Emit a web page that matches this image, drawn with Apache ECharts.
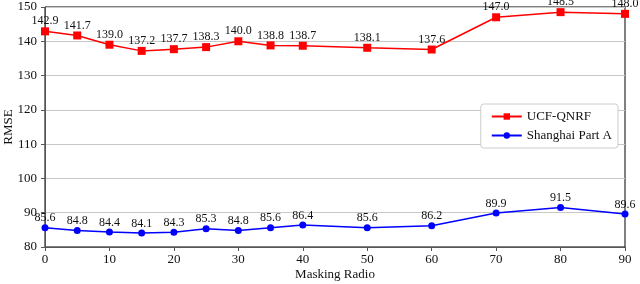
<!DOCTYPE html>
<html><head><meta charset="utf-8">
<script src="https://cdn.jsdelivr.net/npm/echarts@6/dist/echarts.min.js"></script>
<style>html,body{margin:0;padding:0;background:#fff}#c{width:640px;height:284px}</style>
</head><body><div id="c"></div>
<script>
const ratios = [0, 5, 10, 15, 20, 25, 30, 35, 40, 50, 60, 70, 80, 90];
const ucf = [142.9, 141.7, 139.0, 137.2, 137.7, 138.3, 140.0, 138.8, 138.7, 138.1, 137.6, 147.0, 148.5, 148.0];
const sha = [85.6, 84.8, 84.4, 84.1, 84.3, 85.3, 84.8, 85.6, 86.4, 85.6, 86.2, 89.9, 91.5, 89.6];
const font = 'Liberation Serif';
const chart = echarts.init(document.getElementById('c'));
const lbl = {show: true, position: 'top', distance: 0, fontFamily: font, fontSize: 12, color: '#111', formatter: p => p.value[1].toFixed(1)};
chart.setOption({
  animation: false,
  grid: {left: 45, right: 15, top: 7, bottom: 37, show: true, borderColor: '#000', borderWidth: 1, outerBoundsMode: 'none', containLabel: false},
  legend: {
    orient: 'vertical', right: 22, top: 104, itemWidth: 30, itemHeight: 8, itemGap: 6,
    backgroundColor: '#fff', borderColor: '#ccc', borderWidth: 1, borderRadius: 3, padding: [6, 6, 6, 10],
    textStyle: {fontFamily: font, fontSize: 13, color: '#111'},
    data: ['UCF-QNRF', 'Shanghai Part A']
  },
  xAxis: {
    type: 'value', min: 0, max: 90, interval: 10,
    name: 'Masking Radio', nameLocation: 'middle', nameGap: 21, nameMoveOverlap: false,
    nameTextStyle: {fontFamily: font, fontSize: 13, color: '#111'},
    axisLine: {show: true, lineStyle: {color: '#555'}},
    axisTick: {show: true, inside: false, length: 4, lineStyle: {color: '#555'}},
    axisLabel: {fontFamily: font, fontSize: 13, color: '#111', margin: 6},
    splitLine: {show: false}
  },
  yAxis: {
    type: 'value', min: 80, max: 150, interval: 10,
    name: 'RMSE', nameLocation: 'middle', nameGap: 30, nameMoveOverlap: false,
    nameTextStyle: {fontFamily: font, fontSize: 13, color: '#111'},
    axisLine: {show: true, lineStyle: {color: '#555'}},
    axisTick: {show: true, length: 4, lineStyle: {color: '#555'}},
    axisLabel: {fontFamily: font, fontSize: 13, color: '#111', margin: 8},
    splitLine: {show: true, lineStyle: {color: '#c8c8c8', width: 1}}
  },
  series: [
    {name: 'UCF-QNRF', type: 'line', data: ratios.map((r, i) => [r, ucf[i]]),
     symbol: 'rect', symbolSize: 8, itemStyle: {color: '#ff0000'}, lineStyle: {color: '#ff0000', width: 1.5},
     label: lbl, clip: false},
    {name: 'Shanghai Part A', type: 'line', data: ratios.map((r, i) => [r, sha[i]]),
     symbol: 'circle', symbolSize: 7, itemStyle: {color: '#0000ff'}, lineStyle: {color: '#0000ff', width: 1.5},
     label: lbl, clip: false}
  ]
});
</script></body></html>
